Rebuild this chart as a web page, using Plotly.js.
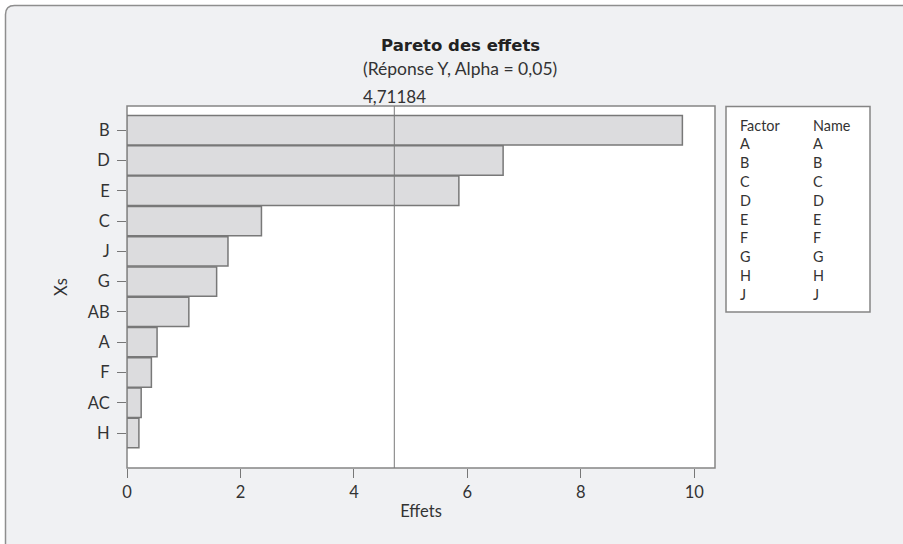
<!DOCTYPE html>
<html>
<head>
<meta charset="utf-8">
<script src="https://cdn.plot.ly/plotly-3.0.1.min.js"></script>
<style>html,body{margin:0;padding:0;background:#fff;}#chart{width:903px;height:544px;}</style>
</head>
<body>
<div id="chart"></div>
<script>
// ---- data ----
const terms = ['B','D','E','C','J','G','AB','A','F','AC','H'];
const effects = [9.79, 6.63, 5.85, 2.37, 1.78, 1.58, 1.09, 0.53, 0.43, 0.25, 0.21];
const refValue = 4.71184;
const refLabel = '4,71184';
const xTicks = [0, 2, 4, 6, 8, 10];
const factors = ['A','B','C','D','E','F','G','H','J'];
const factorNames = ['A','B','C','D','E','F','G','H','J'];
const titleText = 'Pareto des effets';
const subtitleText = '(Réponse Y, Alpha = 0,05)';

// ---- layout geometry (pixels) ----
const W = 903, H = 544;
const L = 127, R = 715, T = 106, B = 468;
const pw = R - L, ph = B - T;
const px = p => (p - L) / pw;
const py = p => (B - p) / ph;

const FONT = 'Lato, "Open Sans", sans-serif';
const TXT = '#333333';
const GRAY = '#858585';
const FS = 16.5;
const LFS = 14.4;

function roundRectPath(x0, y0, x1, y1, r) {
  return `M ${px(x0 + r)} ${py(y0)} L ${px(x1)} ${py(y0)} L ${px(x1)} ${py(y1)} L ${px(x0)} ${py(y1)} ` +
         `L ${px(x0)} ${py(y0 + r)} Q ${px(x0)} ${py(y0)} ${px(x0 + r)} ${py(y0)} Z`;
}

const shapes = [
  { type: 'path', xref: 'paper', yref: 'paper', layer: 'below',
    path: roundRectPath(5.5, 5.5, 960, 620, 9),
    fillcolor: '#f0f1f3', line: { color: '#8e8e8e', width: 1.5 } },
  { type: 'rect', xref: 'paper', yref: 'paper', layer: 'below',
    x0: 0, x1: 1, y0: 0, y1: 1, fillcolor: '#ffffff', line: { color: GRAY, width: 1.5 } },
  { type: 'rect', xref: 'paper', yref: 'paper', layer: 'below',
    x0: px(726), x1: px(870), y0: py(312), y1: py(106.5), fillcolor: '#ffffff', line: { color: GRAY, width: 1.5 } },
  { type: 'line', xref: 'x', yref: 'paper', layer: 'above',
    x0: refValue, x1: refValue, y0: 0, y1: 1, line: { color: '#7a7a7a', width: 1 } }
];

const annotations = [
  { text: '<b>' + titleText + '</b>', xref: 'paper', yref: 'paper', x: px(460), y: py(45),
    xanchor: 'center', yanchor: 'middle', showarrow: false, font: { family: 'DejaVu Sans', size: 16.5, color: '#222' } },
  { text: subtitleText, xref: 'paper', yref: 'paper', x: px(460), y: py(68.5),
    xanchor: 'center', yanchor: 'middle', showarrow: false, font: { family: FONT, size: 17.5, color: TXT } },
  { text: refLabel, xref: 'x', yref: 'paper', x: refValue, y: py(97),
    xanchor: 'center', yanchor: 'middle', showarrow: false, font: { family: FONT, size: 17, color: TXT } }
];
const rows = [['Factor', 'Name']].concat(factors.map((f, i) => [f, factorNames[i]]));
rows.forEach((r, i) => {
  const yy = py(125 + i * 18.8);
  annotations.push({ text: r[0], xref: 'paper', yref: 'paper', x: px(738), y: yy, xanchor: 'left', yanchor: 'middle',
    showarrow: false, font: { family: FONT, size: LFS, color: TXT } });
  annotations.push({ text: r[1], xref: 'paper', yref: 'paper', x: px(811), y: yy, xanchor: 'left', yanchor: 'middle',
    showarrow: false, font: { family: FONT, size: LFS, color: TXT } });
});

const data = [{
  type: 'bar', orientation: 'h', x: effects, y: terms,
  marker: { color: '#dcdcde', line: { color: '#787878', width: 1.5 } },
  hoverinfo: 'skip'
}];

const layout = {
  width: W, height: H,
  margin: { l: L, r: W - R, t: T, b: H - B, pad: 0 },
  paper_bgcolor: '#ffffff', plot_bgcolor: 'rgba(0,0,0,0)',
  showlegend: false, bargap: 0.03,
  font: { family: FONT, size: FS, color: TXT },
  xaxis: {
    range: [0, 10.365], tickvals: xTicks, ticktext: xTicks.map(String),
    ticks: 'outside', ticklen: 9, tickwidth: 1, tickcolor: '#777',
    showgrid: false, zeroline: false, showline: false,
    tickfont: { family: FONT, size: FS, color: TXT },
    title: { text: 'Effets', font: { family: FONT, size: FS, color: TXT }, standoff: 4 }
  },
  yaxis: {
    type: 'category', categoryorder: 'array', categoryarray: terms,
    range: [10 + 1.155, -0.8],
    ticks: 'outside', ticklen: 9, tickwidth: 1, tickcolor: '#777',
    ticklabelstandoff: 4,
    showgrid: false, zeroline: false, showline: false,
    tickfont: { family: FONT, size: FS, color: TXT },
    title: { text: 'Xs', font: { family: FONT, size: FS, color: TXT }, standoff: 16 }
  },
  shapes: shapes,
  annotations: annotations
};

Plotly.newPlot('chart', data, layout, { staticPlot: true, displayModeBar: false });
</script>
</body>
</html>
